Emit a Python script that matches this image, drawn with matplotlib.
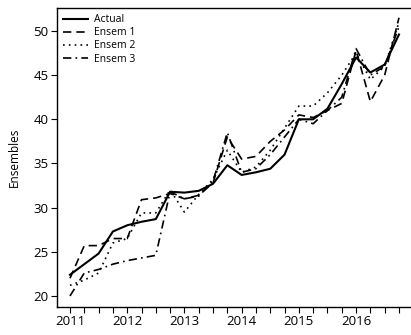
import matplotlib
matplotlib.use("Agg")
import matplotlib.pyplot as plt
import numpy as np

plt.rcParams['font.family'] = ['Open Sans', 'DejaVu Sans']

# Quarterly observations, 2011 Q1 through 2016 Q4
quarters = 2011 + 0.25 * np.arange(24)

actual = [22.4, 23.6, 24.8, 27.3, 28.0, 28.4, 28.7, 31.8, 31.7, 31.9, 32.7, 34.8,
          33.7, 34.0, 34.4, 36.0, 40.0, 40.0, 41.2, 44.0, 47.0, 45.3, 46.2, 49.6]
ensem1 = [22.0, 25.7, 25.7, 26.5, 26.5, 30.9, 31.1, 31.6, 31.0, 31.4, 32.8, 38.0,
          35.5, 35.8, 37.5, 38.8, 40.5, 40.2, 41.0, 41.8, 47.8, 42.0, 45.0, 51.5]
ensem2 = [21.2, 21.8, 22.6, 26.0, 26.5, 29.4, 29.4, 32.0, 29.5, 31.5, 33.2, 36.5,
          34.0, 34.6, 36.5, 39.0, 41.5, 41.5, 43.0, 45.0, 47.5, 44.5, 46.0, 51.0]
ensem3 = [20.0, 22.6, 23.0, 23.6, 24.0, 24.3, 24.6, 31.8, 31.0, 31.3, 33.0, 38.5,
          34.0, 34.4, 36.0, 38.0, 40.0, 39.5, 41.0, 42.5, 48.0, 45.0, 46.0, 50.5]

year_ticks = [2011, 2012, 2013, 2014, 2015, 2016]
y_ticks = [20, 25, 30, 35, 40, 45, 50]

fig = plt.figure(figsize=(4.11, 3.35), dpi=100)
ax = fig.add_axes([57 / 411, 1 - 307 / 335, 1 - 57 / 411, 299 / 335])

ax.plot(quarters, actual, color='black', lw=1.5, ls='-', label='Actual')
ax.plot(quarters, ensem1, color='black', lw=1.2, ls=(0, (5, 3)), label='Ensem 1')
ax.plot(quarters, ensem2, color='black', lw=1.2, ls=(0, (1, 2.5)), label='Ensem 2')
ax.plot(quarters, ensem3, color='black', lw=1.2, ls=(0, (5, 2.5, 1, 2.5)), label='Ensem 3')

ax.set_xlim(2010.773, 2016.96)
ax.set_ylim(18.75, 52.6)

quarter_ticks = np.arange(2011, 2017, 0.25)
ax.set_xticks(quarter_ticks)
ax.set_xticklabels([str(int(q)) if q in year_ticks else '' for q in quarter_ticks])
ax.set_yticks(y_ticks)
ax.tick_params(axis='both', direction='out', length=4, width=0.8, labelsize=9.5, pad=2)

ax.spines['right'].set_visible(False)
for s in ('left', 'bottom', 'top'):
    ax.spines[s].set_linewidth(1.0)

ax.set_ylabel('Ensembles', fontsize=8.5, labelpad=9)

leg = ax.legend(loc='upper left', fontsize=7.5, frameon=True, fancybox=False,
                handlelength=2.4, handletextpad=0.6, borderaxespad=0.3,
                labelspacing=0.2, borderpad=0.3)
leg.get_frame().set_edgecolor('white')
leg.get_frame().set_facecolor('white')

fig.savefig('out.png', dpi=100)
